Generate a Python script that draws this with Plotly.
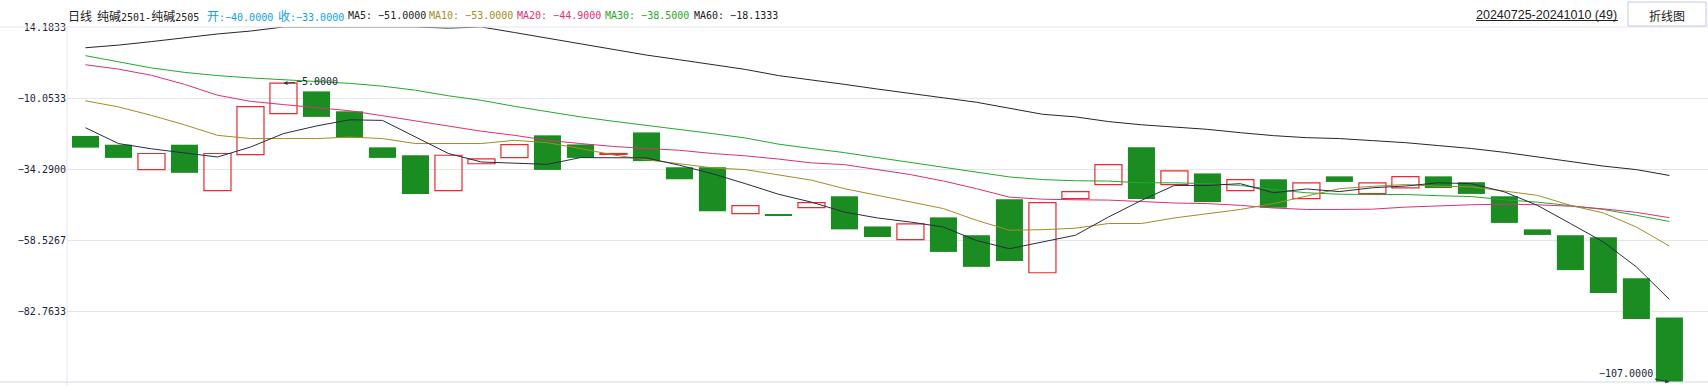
import plotly.graph_objects as go

# ---------------- data ----------------
dates = [
    "2024-07-25", "2024-07-26", "2024-07-29", "2024-07-30", "2024-07-31",
    "2024-08-01", "2024-08-02", "2024-08-05", "2024-08-06", "2024-08-07",
    "2024-08-08", "2024-08-09", "2024-08-12", "2024-08-13", "2024-08-14",
    "2024-08-15", "2024-08-16", "2024-08-19", "2024-08-20", "2024-08-21",
    "2024-08-22", "2024-08-23", "2024-08-26", "2024-08-27", "2024-08-28",
    "2024-08-29", "2024-08-30", "2024-09-02", "2024-09-03", "2024-09-04",
    "2024-09-05", "2024-09-06", "2024-09-09", "2024-09-10", "2024-09-11",
    "2024-09-12", "2024-09-13", "2024-09-18", "2024-09-19", "2024-09-20",
    "2024-09-23", "2024-09-24", "2024-09-25", "2024-09-26", "2024-09-27",
    "2024-09-30", "2024-10-08", "2024-10-09", "2024-10-10",
]

opens = [-23, -26, -34.5, -26, -41.7, -29.4, -15.4, -7.8, -14.6, -26.9,
         -29.6, -41.7, -32.5, -30.4, -22.8, -25.9, -29.3, -21.8, -33.7, -33.7,
         -49.5, -49.8, -47.5, -43.6, -53.9, -58.4, -50.8, -56.9, -44.6, -69.7,
         -44.4, -39.6, -26.9, -39.6, -35.8, -41.7, -37.8, -44.4, -36.8, -42.7,
         -40.7, -36.8, -38.8, -43.6, -54.9, -56.9, -57.6, -71.6, -85.0]

closes = [-27, -30.5, -29, -35.6, -29, -13, -5, -16.5, -23.6, -30.5,
          -42.8, -29.6, -30.8, -26, -34.6, -30.5, -29.0, -31.6, -37.8, -48.7,
          -46.8, -50.1, -45.8, -54.9, -57.5, -53, -62.6, -67.7, -65.7, -45.8,
          -42, -32.8, -44.5, -34.9, -45.6, -37.9, -47.5, -39, -38.7, -39,
          -36.9, -40.8, -42.8, -52.7, -56.8, -68.8, -76.6, -85.5, -107.0]

ma5 = [-20.2, -25.6, -27.4, -28.7, -30.2, -26.8, -22.2, -19.6, -17.5, -17.7,
       -23.4, -29.0, -31.9, -32.2, -32.7, -30.4, -30.4, -30.5, -33.0, -35.9,
       -39.3, -42.9, -45.6, -49.0, -51.0, -52.4, -54.1, -58.7, -61.5, -59.2,
       -56.9, -50.7, -45.0, -39.9, -39.9, -39.3, -42.4, -41.1, -42.0, -40.7,
       -40.1, -39.0, -39.3, -42.1, -46.7, -52.9, -59.2, -67.7, -78.8]

ma10 = [-11.0, -13.1, -16.0, -19.2, -22.8, -23.9, -23.9, -23.9, -23.4, -23.9,
        -25.6, -25.6, -25.6, -24.5, -25.3, -27.3, -29.5, -31.1, -32.4, -33.9,
        -34.5, -36.4, -38.1, -41.0, -43.3, -45.6, -47.8, -51.8, -55.2, -55.0,
        -54.5, -52.9, -52.9, -51.0, -49.5, -48.1, -46.1, -43.5, -41.0, -40.2,
        -39.6, -40.2, -40.4, -41.8, -43.3, -46.7, -49.3, -54.1, -60.6]

ma20 = [1.3, -0.2, -2.3, -5.4, -9.1, -11.2, -12.3, -13.3, -14.4, -16.1,
        -17.9, -19.7, -21.4, -22.8, -24.5, -25.6, -26.6, -27.3, -27.9, -29.0,
        -29.8, -30.9, -32.2, -32.8, -34.4, -36.2, -38.4, -41.0, -43.9, -44.6,
        -44.8, -44.9, -45.4, -45.9, -46.1, -46.7, -47.6, -48.1, -48.1, -48.0,
        -47.3, -46.8, -46.5, -46.3, -46.5, -47.0, -47.9, -49.1, -50.9]

ma30 = [4.4, 2.35, 0.2, -1.3, -2.4, -3.2, -3.8, -4.4, -5.05, -6.0,
        -7.4, -9.3, -10.85, -12.9, -14.8, -16.5, -18.0, -19.4, -20.6, -22.2,
        -23.7, -25.8, -27.3, -28.7, -30.4, -32.0, -33.6, -35.3, -37.0, -37.9,
        -38.3, -38.4, -39.0, -39.0, -39.3, -39.9, -41.3, -42.4, -42.9, -43.0,
        -43.0, -43.4, -43.7, -44.8, -45.6, -46.8, -48.1, -50.1, -52.2]

ma60 = [7.1, 8.0, 9.2, 10.5, 11.8, 12.8, 14.18, 14.18, 14.18, 14.18,
        14.18, 13.8, 14.18, 12.3, 10.4, 8.5, 6.6, 4.6, 3.0, 1.3,
        -0.3, -2.4, -3.8, -5.4, -7.0, -8.4, -10.0, -11.5, -13.6, -15.6,
        -16.5, -18.1, -19.2, -20.0, -20.75, -21.9, -22.9, -23.6, -23.9, -24.6,
        -25.3, -26.3, -27.3, -28.6, -30.2, -31.9, -33.3, -34.5, -36.5]

y_ticks = [14.1833, -10.0533, -34.2900, -58.5267, -82.7633]
y_min, y_max = -107.0, 14.1833

# ---------------- layout helpers ----------------
W, H = 1708, 386
ML, MR, MT, MB = 67, 0, 27, 4
PW, PH = W - ML - MR, H - MT - MB


def px(xp):
    return (xp - ML) / PW


def py(yp):
    return (H - MB - yp) / PH


GREEN = "#1a8c22"
RED = "#e62a2f"
GRID = "#e4e4ef"
TXT = "#1e1e3c"
MONO = "DejaVu Sans Mono"
CJK = "Noto Sans CJK SC"

n = len(dates)
dn = [i for i in range(n) if closes[i] <= opens[i]]
up = [i for i in range(n) if closes[i] > opens[i]]

fig = go.Figure()
fig.add_trace(go.Bar(
    x=[dates[i] for i in dn],
    y=[opens[i] - closes[i] for i in dn],
    base=[closes[i] for i in dn],
    width=0.82,
    marker=dict(color=GREEN, line=dict(width=0)),
    hoverinfo="skip", showlegend=False,
))
fig.add_trace(go.Bar(
    x=[dates[i] for i in up],
    y=[closes[i] - opens[i] for i in up],
    base=[opens[i] for i in up],
    width=0.82,
    marker=dict(color="rgba(255,255,255,0)", line=dict(color=RED, width=1.2)),
    hoverinfo="skip", showlegend=False,
))

for vals, col in [(ma60, "#262626"), (ma30, "#22aa2a"), (ma20, "#dc2f78"),
                  (ma10, "#a08c28"), (ma5, "#2a2a48")]:
    fig.add_trace(go.Scatter(x=dates, y=vals, mode="lines",
                             line=dict(color=col, width=1),
                             hoverinfo="skip", showlegend=False))


def fmt(v):
    s = f"{abs(v):.4f}"
    return ("\u2212" + s) if v < 0 else s


fig.update_layout(
    width=W, height=H,
    margin=dict(l=ML, r=MR, t=MT, b=MB, pad=0),
    paper_bgcolor="white", plot_bgcolor="white",
    barmode="overlay",
    showlegend=False,
    xaxis=dict(type="category", categoryorder="array", categoryarray=dates,
               range=[-0.56, 49.17], showticklabels=False, showgrid=False,
               zeroline=False, showline=False, ticks=""),
    yaxis=dict(range=[y_min, y_max], tickmode="array", tickvals=y_ticks,
               ticktext=[fmt(v) for v in y_ticks], showgrid=True,
               gridcolor=GRID, gridwidth=1, zeroline=False, showline=False,
               ticks="", tickfont=dict(family=MONO, size=10, color=TXT)),
)

shapes = [
    dict(type="line", xref="paper", yref="paper", x0=px(0), x1=px(W),
         y0=py(27), y1=py(27), line=dict(color=GRID, width=1)),
    dict(type="line", xref="paper", yref="paper", x0=px(0), x1=px(W),
         y0=py(382), y1=py(382), line=dict(color="#d6d6e4", width=1)),
    dict(type="line", xref="paper", yref="paper", x0=px(67), x1=px(67),
         y0=py(386), y1=py(27), line=dict(color=GRID, width=1)),
    dict(type="rect", xref="paper", yref="paper", x0=px(1628), x1=px(1706),
         y0=py(26), y1=py(2), line=dict(color="#c8c8e0", width=1),
         fillcolor="white"),
    dict(type="line", xref="paper", yref="paper", x0=px(1476), x1=px(1618),
         y0=py(20.5), y1=py(20.5), line=dict(color="#222222", width=1)),
]
fig.update_layout(shapes=shapes)


def cjk(s):
    return f'<span style="font-family:{CJK};font-size:12px">{s}</span>'


header = [
    (68, cjk("日线"), "#222222"),
    (97, cjk("纯碱") + "2501-" + cjk("纯碱") + "2505", "#222222"),
    (207, cjk("开") + ":\u221240.0000", "#10a0e6"),
    (277.5, cjk("收") + ":\u221233.0000", "#10a0e6"),
    (347.5, "MA5: \u221251.0000", "#222222"),
    (428.6, "MA10: \u221253.0000", "#a08c1e"),
    (517.4, "MA20: \u221244.9000", "#dc2f78"),
    (604.7, "MA30: \u221238.5000", "#1eaa28"),
    (693.5, "MA60: \u221218.1333", "#222222"),
]
ann = []
for xp, txt, col in header:
    ann.append(dict(xref="paper", yref="paper", x=px(xp - 2), y=py(15),
                    xanchor="left", yanchor="middle", showarrow=False,
                    text=txt, font=dict(family=MONO, size=10, color=col)))

ann.append(dict(xref="paper", yref="paper", x=px(1474), y=py(14.5),
                xanchor="left", yanchor="middle", showarrow=False,
                text="20240725-20241010 (49)",
                font=dict(family="Liberation Sans", size=12.5, color="#222222")))
ann.append(dict(xref="paper", yref="paper", x=px(1667), y=py(15),
                xanchor="center", yanchor="middle", showarrow=False,
                text="折线图", font=dict(family=CJK, size=12, color="#222222")))

# max / min markers
imax = max(range(n), key=lambda i: max(opens[i], closes[i]))
imin = min(range(n), key=lambda i: min(opens[i], closes[i]))
vmax = max(opens[imax], closes[imax])
vmin = min(opens[imin], closes[imin])
ann.append(dict(x=dates[imax], y=vmax, xref="x", yref="y", text=fmt(vmax),
                showarrow=True, ax=34, ay=-2, arrowhead=2, arrowsize=0.8,
                arrowwidth=1, arrowcolor="#333344",
                font=dict(family=MONO, size=10, color=TXT)))
ann.append(dict(x=dates[imin], y=vmin, xref="x", yref="y", text=fmt(vmin),
                showarrow=True, ax=-43, ay=-9, arrowhead=2, arrowsize=0.8,
                arrowwidth=1, arrowcolor="#333344",
                font=dict(family=MONO, size=10, color=TXT)))
fig.update_layout(annotations=ann)

fig.write_html("out.html",
               config={"displayModeBar": False},
               post_script="document.body.style.margin='0';"
                           "document.body.style.overflow='hidden';")
